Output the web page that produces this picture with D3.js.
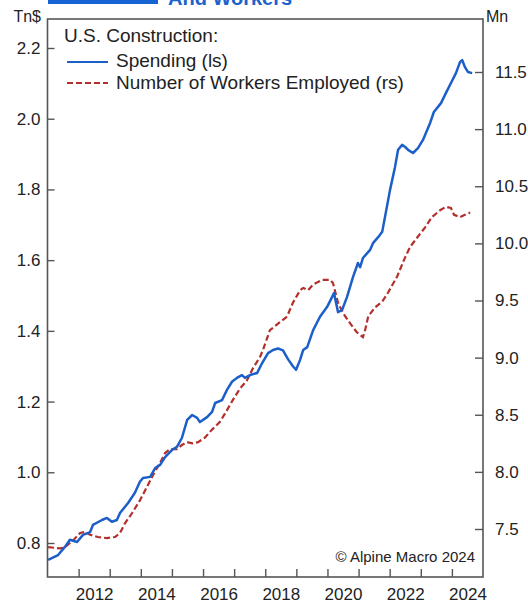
<!DOCTYPE html>
<html>
<head>
<meta charset="utf-8">
<script src="https://cdn.jsdelivr.net/npm/d3@7"></script>
<style>
  body { margin: 0; background: #fff; }
  svg { display: block; font-family: "Liberation Sans", Arial, sans-serif; }
</style>
</head>
<body>
<script>
// spending, Tn$ (left scale)
const spendYears = [2011.02, 2011.34, 2011.56, 2011.72, 2011.95, 2012.14, 2012.37, 2012.46, 2012.75, 2012.91,
  2013.07, 2013.23, 2013.33, 2013.59, 2013.81, 2013.97, 2014.07, 2014.30, 2014.46, 2014.62, 2014.78,
  2015.00, 2015.16, 2015.32, 2015.49, 2015.65, 2015.81, 2015.90, 2016.13, 2016.29, 2016.39, 2016.61,
  2016.77, 2016.93, 2017.09, 2017.25, 2017.35, 2017.51, 2017.74, 2017.90, 2018.09, 2018.25, 2018.41,
  2018.57, 2018.73, 2018.89, 2018.99, 2019.12, 2019.22, 2019.35, 2019.54, 2019.76, 2019.99, 2020.15,
  2020.21, 2020.34, 2020.47, 2020.63, 2020.82, 2020.98, 2021.05, 2021.14, 2021.37, 2021.47, 2021.63,
  2021.76, 2022.01, 2022.17, 2022.27, 2022.40, 2022.50, 2022.59, 2022.75, 2022.91, 2023.07, 2023.30,
  2023.42, 2023.65, 2023.81, 2023.97, 2024.13, 2024.26, 2024.33, 2024.42, 2024.52, 2024.65];
const spendVals = [0.752, 0.766, 0.789, 0.809, 0.803, 0.823, 0.831, 0.851, 0.865, 0.871,
  0.860, 0.865, 0.885, 0.913, 0.942, 0.973, 0.984, 0.987, 1.012, 1.021, 1.043,
  1.063, 1.072, 1.097, 1.148, 1.162, 1.154, 1.142, 1.156, 1.171, 1.196, 1.204,
  1.233, 1.256, 1.267, 1.275, 1.267, 1.275, 1.281, 1.309, 1.337, 1.346, 1.350,
  1.345, 1.320, 1.300, 1.290, 1.318, 1.346, 1.354, 1.402, 1.440, 1.468, 1.496,
  1.507, 1.453, 1.459, 1.496, 1.552, 1.592, 1.580, 1.606, 1.629, 1.649, 1.665,
  1.680, 1.798, 1.863, 1.912, 1.926, 1.920, 1.912, 1.903, 1.917, 1.940, 1.988,
  2.019, 2.044, 2.073, 2.101, 2.129, 2.160, 2.166, 2.146, 2.132, 2.129];

// workers employed, Mn (right scale)
const workYears = [2011.02, 2011.40, 2011.56, 2011.82, 2012.05, 2012.21, 2012.37, 2012.62, 2012.91, 2013.17,
  2013.33, 2013.49, 2013.72, 2013.97, 2014.20, 2014.39, 2014.62, 2014.78, 2014.94, 2015.16, 2015.32,
  2015.49, 2015.65, 2015.84, 2016.06, 2016.29, 2016.55, 2016.77, 2016.96, 2017.19, 2017.41, 2017.61,
  2017.83, 2017.93, 2018.15, 2018.47, 2018.70, 2018.89, 2019.12, 2019.22, 2019.38, 2019.54, 2019.83,
  2020.09, 2020.18, 2020.34, 2020.50, 2020.73, 2020.95, 2021.14, 2021.21, 2021.31, 2021.53, 2021.76,
  2021.95, 2022.24, 2022.50, 2022.66, 2022.91, 2023.14, 2023.36, 2023.62, 2023.81, 2023.97, 2024.07,
  2024.26, 2024.42, 2024.59];
const workVals = [7.342, 7.33, 7.34, 7.40, 7.465, 7.474, 7.45, 7.43, 7.42, 7.43,
  7.465, 7.55, 7.64, 7.75, 7.87, 7.97, 8.08, 8.165, 8.20, 8.20, 8.235,
  8.26, 8.25, 8.26, 8.30, 8.37, 8.44, 8.54, 8.63, 8.73, 8.80, 8.91,
  9.005, 9.07, 9.24, 9.31, 9.36, 9.48, 9.59, 9.61, 9.59, 9.64, 9.68,
  9.68, 9.65, 9.48, 9.39, 9.30, 9.22, 9.18, 9.24, 9.36, 9.44, 9.49,
  9.57, 9.71, 9.88, 9.97, 10.06, 10.14, 10.23, 10.29, 10.32, 10.31, 10.25,
  10.23, 10.25, 10.27];

const leftTicks = [0.8, 1.0, 1.2, 1.4, 1.6, 1.8, 2.0, 2.2];
const rightTicks = [7.5, 8.0, 8.5, 9.0, 9.5, 10.0, 10.5, 11.0, 11.5];
const yearTicks = d3.range(2012, 2025);
const yearLabels = [2012, 2014, 2016, 2018, 2020, 2022, 2024];

const W = 528, H = 603;
const plotL = 47.5, plotR = 483, plotT = 19, plotB = 577;
const blue = "#1d5fc9", red = "#b3302c", ink = "#222";

const svg = d3.select("body").append("svg")
  .attr("width", W).attr("height", H);

const x = d3.scaleLinear().domain([2011, 2025]).range([plotL, plotR]);
const yL = d3.scaleLinear().domain([0.8, 2.2]).range([543, 48]);
const yR = d3.scaleLinear().domain([7.5, 11.5]).range([529, 72]);

// title remnants at the top (cut off)
svg.append("rect")
  .attr("x", 48).attr("y", -20).attr("width", 110).attr("height", 24)
  .attr("fill", "#1763d4");
svg.append("text")
  .attr("x", 168).attr("y", 5)
  .attr("font-size", 20).attr("font-weight", "bold")
  .attr("fill", "#1a62cc")
  .text("And Workers");

// axes
const gl = svg.append("g")
  .attr("transform", `translate(${plotL},0)`)
  .call(d3.axisLeft(yL).tickValues(leftTicks).tickFormat(d3.format(".1f"))
    .tickSizeInner(-7).tickSizeOuter(0).tickPadding(7));

const gr = svg.append("g")
  .attr("transform", `translate(${plotR},0)`)
  .call(d3.axisRight(yR).tickValues(rightTicks).tickFormat(d3.format(".1f"))
    .tickSizeInner(-8).tickSizeOuter(0).tickPadding(12));

const gb = svg.append("g")
  .attr("transform", `translate(0,${plotB})`)
  .call(d3.axisBottom(x).tickValues(yearTicks).tickFormat("")
    .tickSizeInner(-8).tickSizeOuter(0));

const gbl = svg.append("g")
  .attr("transform", `translate(0,${plotB})`)
  .call(d3.axisBottom(x).tickValues(yearLabels.map(d => d + 0.5))
    .tickFormat(d => String(Math.floor(d)))
    .tickSize(0).tickPadding(11));

[gl, gr, gb, gbl].forEach(g => {
  g.select(".domain").remove();
  g.selectAll("line").attr("stroke", "#555").attr("stroke-width", 1.4);
  g.selectAll("text").attr("font-size", 17).attr("fill", ink)
    .attr("font-family", "\"Liberation Sans\", Arial, sans-serif");
});
gbl.selectAll("line").remove();

// units
svg.append("text").attr("x", 41).attr("y", 22).attr("text-anchor", "end")
  .attr("font-size", 16).attr("fill", ink).text("Tn$");
svg.append("text").attr("x", 486).attr("y", 22)
  .attr("font-size", 16).attr("fill", ink).text("Mn");

// lines
const lineL = d3.line().x(d => x(d[0])).y(d => yL(d[1]));
const lineR = d3.line().x(d => x(d[0])).y(d => yR(d[1]));

svg.append("path")
  .datum(d3.zip(workYears, workVals))
  .attr("d", lineR)
  .attr("fill", "none").attr("stroke", red)
  .attr("stroke-width", 2.2).attr("stroke-dasharray", "6,3");

svg.append("path")
  .datum(d3.zip(spendYears, spendVals))
  .attr("d", lineL)
  .attr("fill", "none").attr("stroke", blue)
  .attr("stroke-width", 2.5).attr("stroke-linejoin", "round");

// frame
svg.append("rect")
  .attr("x", plotL).attr("y", plotT)
  .attr("width", plotR - plotL).attr("height", plotB - plotT)
  .attr("fill", "none").attr("stroke", "#555").attr("stroke-width", 1.6);

// legend
const lg = svg.append("g").attr("font-size", 19).attr("fill", ink);
lg.append("text").attr("x", 64).attr("y", 42).text("U.S. Construction:");
lg.append("text").attr("x", 116).attr("y", 67).text("Spending (ls)");
lg.append("text").attr("x", 116).attr("y", 89).text("Number of Workers Employed (rs)");
lg.append("line").attr("x1", 67).attr("x2", 108).attr("y1", 62).attr("y2", 62)
  .attr("stroke", blue).attr("stroke-width", 2.2);
lg.append("line").attr("x1", 67).attr("x2", 108).attr("y1", 83).attr("y2", 83)
  .attr("stroke", red).attr("stroke-width", 2.2).attr("stroke-dasharray", "6,3");

// source
svg.append("text").attr("x", 475).attr("y", 562).attr("text-anchor", "end")
  .attr("font-size", 15).attr("fill", ink).text("© Alpine Macro 2024");
</script>
</body>
</html>
